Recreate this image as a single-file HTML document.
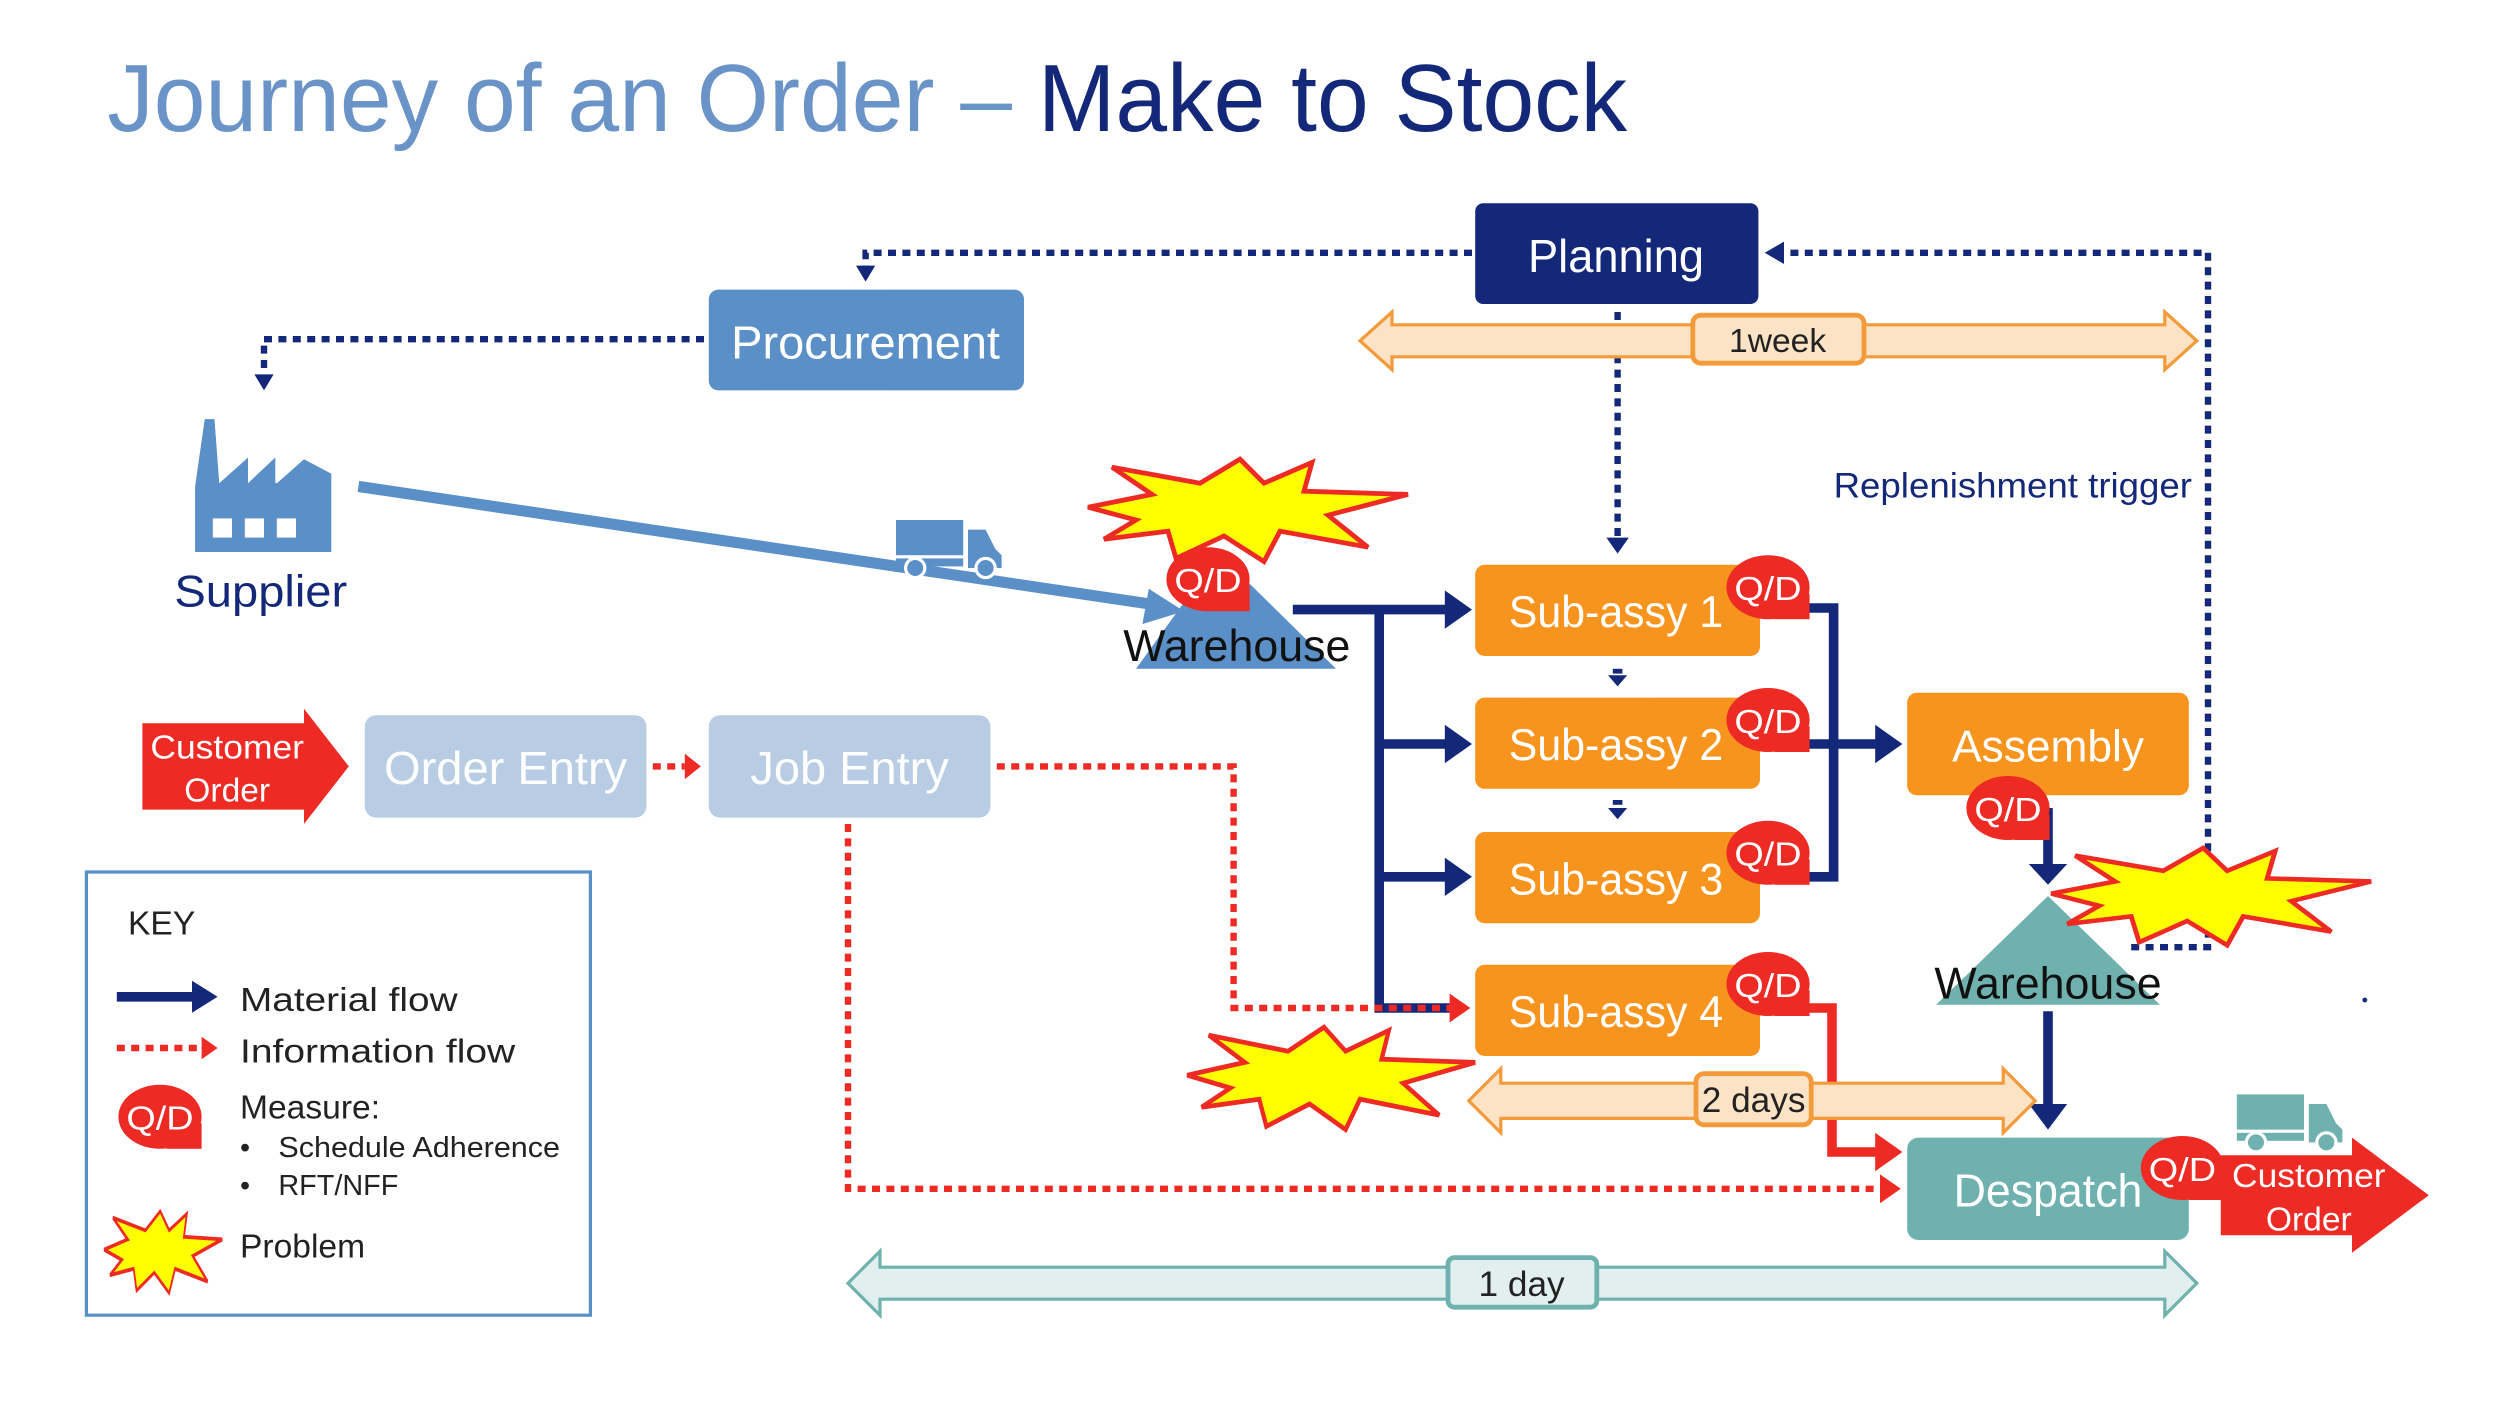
<!DOCTYPE html>
<html><head><meta charset="utf-8"><style>
html,body{margin:0;padding:0;background:#fff;}
svg{display:block;}
text{font-family:"Liberation Sans",sans-serif;}
</style></head><body>
<svg width="2500" height="1406" viewBox="0 0 1562.5 878.75" xmlns="http://www.w3.org/2000/svg">
<defs>
<polygon id="star" points="0,30 40,22 15,5 70,15 95,0 110,15 140,2 135,20 200,22 150,35 175,55 120,45 110,64 85,48 55,62 50,45 10,50 30,38" fill="#ffff00" stroke="#ee2a24" stroke-width="3" stroke-linejoin="miter"/>
<g id="qd"><rect x="4" y="4" width="22" height="16" fill="#ee2a24"/><ellipse cx="0" cy="0" rx="26" ry="20" fill="#ee2a24"/><text x="0" y="8" font-size="21" fill="#fff" text-anchor="middle" textLength="42" lengthAdjust="spacingAndGlyphs">Q/D</text></g>
<g id="truck"><rect x="0" y="0" width="42" height="22" /><rect x="0" y="24" width="42" height="5"/><path d="M45,6 H56 L62,18 L66,22 V30 H45 Z"/><circle cx="12" cy="30" r="6" stroke="#fff" stroke-width="2"/><circle cx="56" cy="30" r="6" stroke="#fff" stroke-width="2"/></g>
</defs>

<!-- Title -->
<text x="67" y="82" font-size="60" textLength="950" lengthAdjust="spacingAndGlyphs"><tspan fill="#6a93c8">Journey of an Order – </tspan><tspan fill="#14287a">Make to Stock</tspan></text>

<!-- dotted navy info lines -->
<g fill="none" stroke="#14287a" stroke-width="4" stroke-dasharray="5,4">
<path d="M920,158 H541 V168"/>
<path d="M440,212 H165 V234"/>
<path d="M1110,158 H1380 V592 H1330"/>
<path d="M1011,195 V336"/>
</g>
<g fill="#14287a">
<polygon points="535,166 547,166 541,176"/>
<polygon points="159,234 171,234 165,244"/>
<polygon points="1103,158 1115,151 1115,165"/>
<polygon points="1004,336 1018,336 1011,346"/>
<polygon points="1005,422 1017,422 1011,429"/><rect x="1008" y="418" width="6" height="3"/>
<polygon points="1005,505 1017,505 1011,512"/><rect x="1008" y="500" width="6" height="3"/>
</g>

<!-- 1week arrow -->
<polygon points="850,213 870,195 870,203 1353,203 1353,195 1373,213 1353,231 1353,223 870,223 870,231" fill="#fde3c5" stroke="#f39a3b" stroke-width="2"/>
<rect x="1058" y="197" width="107" height="30" rx="5" fill="#fde3c5" stroke="#f39a3b" stroke-width="3"/>
<text x="1111" y="220" font-size="21" text-anchor="middle" fill="#222">1week</text>

<!-- Planning / Procurement -->
<rect x="922" y="127" width="177" height="63" rx="5" fill="#14287a"/>
<text x="1010" y="170" font-size="29" fill="#fff" text-anchor="middle" textLength="110" lengthAdjust="spacingAndGlyphs">Planning</text>
<rect x="443" y="181" width="197" height="63" rx="6" fill="#5b8fc7"/>
<text x="541" y="224" font-size="29" fill="#fff" text-anchor="middle" textLength="168" lengthAdjust="spacingAndGlyphs">Procurement</text>

<text x="1146" y="311" font-size="22" fill="#14287a" textLength="224" lengthAdjust="spacingAndGlyphs">Replenishment trigger</text>

<!-- Supplier -->
<path d="M128,262 H134 L137,302 L155,286 V302 L172,286 V302 L207,296 V345 H122 V304 Z" fill="#5b8fc7"/>
<path d="M122,304 L128,262 H134 L137,303 L155,286 V303 L172,286 V303 L190,287 L207,296 V345 H122 Z" fill="#5b8fc7"/>
<g fill="#fff"><rect x="133" y="324" width="12" height="12"/><rect x="153" y="324" width="12" height="12"/><rect x="173" y="324" width="12" height="12"/></g>
<text x="163" y="379" font-size="28" fill="#14287a" text-anchor="middle" textLength="108" lengthAdjust="spacingAndGlyphs">Supplier</text>
<line x1="224" y1="304" x2="722" y2="378" stroke="#5b8fc7" stroke-width="7"/>
<polygon points="718,368 740,382 714,390" fill="#5b8fc7"/>
<g fill="#5b8fc7" transform="translate(560,325)"><use href="#truck"/></g>

<!-- Warehouse 1 -->
<polygon points="762,346 835,418 710,418" fill="#5b8fc7"/>
<use href="#star" transform="translate(680,287)"/>
<use href="#qd" transform="translate(755,362)"/>
<text x="773" y="413" font-size="28" fill="#111" text-anchor="middle" textLength="142" lengthAdjust="spacingAndGlyphs">Warehouse</text>

<!-- material flow -->
<g fill="none" stroke="#14287a" stroke-width="6">
<path d="M808,381 H906"/>
<path d="M862,381 V630 H906"/>
<path d="M862,465 H906"/><path d="M862,548 H906"/>
<path d="M1100,380 H1146 V548 H1100"/>
<path d="M1100,465 H1175"/>
<path d="M1280,505 V542"/>
<path d="M1280,632 V692"/>
</g>
<g fill="#14287a">
<polygon points="903,369 920,381 903,393"/>
<polygon points="903,453 920,465 903,477"/>
<polygon points="903,536 920,548 903,560"/>
<polygon points="1172,453 1189,465 1172,477"/>
<polygon points="1268,540 1292,540 1280,553"/>
<polygon points="1268,690 1292,690 1280,706"/>
</g>

<!-- red info dotted -->
<g fill="none" stroke="#ee2a24" stroke-width="4" stroke-dasharray="5,4">
<path d="M408,479 H428"/>
<path d="M623,479 H771 V630 H906"/>
<path d="M530,515 V743 H1175"/>
</g>
<g fill="#ee2a24">
<polygon points="428,471 438,479 428,487"/>
<polygon points="906,621 919,630 906,639"/>
<polygon points="1175,734 1188,743 1175,752"/>
</g>
<path d="M1100,630 H1145 V720 H1175" fill="none" stroke="#ee2a24" stroke-width="6"/>
<polygon points="1172,708 1189,720 1172,732" fill="#ee2a24"/>

<!-- Sub-assy boxes -->
<g fill="#f7941d">
<rect x="922" y="353" width="178" height="57" rx="6"/>
<rect x="922" y="436" width="178" height="57" rx="6"/>
<rect x="922" y="520" width="178" height="57" rx="6"/>
<rect x="922" y="603" width="178" height="57" rx="6"/>
<rect x="1192" y="433" width="176" height="64" rx="6"/>
</g>
<g font-size="28" fill="#fff" text-anchor="middle">
<text x="1010" y="392" textLength="134" lengthAdjust="spacingAndGlyphs">Sub-assy 1</text>
<text x="1010" y="475" textLength="134" lengthAdjust="spacingAndGlyphs">Sub-assy 2</text>
<text x="1010" y="559" textLength="134" lengthAdjust="spacingAndGlyphs">Sub-assy 3</text>
<text x="1010" y="642" textLength="134" lengthAdjust="spacingAndGlyphs">Sub-assy 4</text>
<text x="1280" y="476" textLength="120" lengthAdjust="spacingAndGlyphs">Assembly</text>
</g>
<use href="#qd" transform="translate(1105,367)"/>
<use href="#qd" transform="translate(1105,450)"/>
<use href="#qd" transform="translate(1105,533)"/>
<use href="#qd" transform="translate(1105,615)"/>
<use href="#qd" transform="translate(1255,505)"/>

<!-- Warehouse 2 -->
<polygon points="1280,560 1350,628 1210,628" fill="#6fb1ae"/>
<use href="#star" transform="translate(1282,530) scale(1,0.95)"/>
<text x="1280" y="624" font-size="28" fill="#111" text-anchor="middle" textLength="142" lengthAdjust="spacingAndGlyphs">Warehouse</text>
<circle cx="1478" cy="625" r="1.5" fill="#14287a"/>

<!-- 2 days -->
<polygon points="918,688 938,668 938,677 1252,677 1252,668 1272,688 1252,708 1252,699 938,699 938,708" fill="#fde3c5" stroke="#f39a3b" stroke-width="2"/>
<rect x="1060" y="671" width="72" height="32" rx="5" fill="#fde3c5" stroke="#f39a3b" stroke-width="3"/>
<text x="1096" y="695" font-size="22" text-anchor="middle" fill="#222">2 days</text>
<use href="#star" transform="translate(742,642) scale(0.9,1)"/>

<!-- Despatch -->
<rect x="1192" y="711" width="176" height="64" rx="7" fill="#6fb1ae"/>
<text x="1280" y="754" font-size="29" fill="#fff" text-anchor="middle" textLength="118" lengthAdjust="spacingAndGlyphs">Despatch</text>
<polygon points="1388,722 1470,722 1470,711 1518,747 1470,783 1470,772 1388,772" fill="#ee2a24"/>
<use href="#qd" transform="translate(1364,730)"/>
<text x="1443" y="742" font-size="21" fill="#fff" text-anchor="middle" textLength="96" lengthAdjust="spacingAndGlyphs">Customer</text>
<text x="1443" y="769" font-size="21" fill="#fff" text-anchor="middle">Order</text>
<g fill="#6fb1ae" transform="translate(1398,684)"><use href="#truck"/></g>

<!-- 1 day -->
<polygon points="530,802 550,782 550,792 1353,792 1353,782 1373,802 1353,822 1353,812 550,812 550,822" fill="#e1f0ef" stroke="#6fb1ae" stroke-width="2"/>
<rect x="905" y="786" width="93" height="31" rx="4" fill="#e1f0ef" stroke="#6fb1ae" stroke-width="3"/>
<text x="951" y="810" font-size="22" text-anchor="middle" fill="#222">1 day</text>

<!-- left: customer order, order entry, job entry -->
<polygon points="89,452 190,452 190,443 218,479 190,515 190,506 89,506" fill="#ee2a24"/>
<text x="142" y="474" font-size="21" fill="#fff" text-anchor="middle" textLength="96" lengthAdjust="spacingAndGlyphs">Customer</text>
<text x="142" y="501" font-size="21" fill="#fff" text-anchor="middle">Order</text>
<rect x="228" y="447" width="176" height="64" rx="7" fill="#b8cce4"/>
<text x="316" y="490" font-size="29" fill="#fff" text-anchor="middle" textLength="152" lengthAdjust="spacingAndGlyphs">Order Entry</text>
<rect x="443" y="447" width="176" height="64" rx="7" fill="#b8cce4"/>
<text x="531" y="490" font-size="29" fill="#fff" text-anchor="middle" textLength="124" lengthAdjust="spacingAndGlyphs">Job Entry</text>

<!-- KEY -->
<rect x="54" y="545" width="315" height="277" fill="#fff" stroke="#5b8fc7" stroke-width="2"/>
<text x="80" y="584" font-size="21" fill="#222">KEY</text>
<line x1="73" y1="623" x2="122" y2="623" stroke="#14287a" stroke-width="6"/>
<polygon points="120,613 136,623 120,633" fill="#14287a"/>
<text x="150" y="632" font-size="21" fill="#222" textLength="136" lengthAdjust="spacingAndGlyphs">Material flow</text>
<line x1="73" y1="655" x2="125" y2="655" stroke="#ee2a24" stroke-width="4" stroke-dasharray="5,4"/>
<polygon points="126,648 136,655 126,662" fill="#ee2a24"/>
<text x="150" y="664" font-size="21" fill="#222" textLength="172" lengthAdjust="spacingAndGlyphs">Information flow</text>
<use href="#qd" transform="translate(100,698)"/>
<text x="150" y="699" font-size="21" fill="#222">Measure:</text>
<text x="150" y="723" font-size="18" fill="#222">•</text>
<text x="174" y="723" font-size="18" fill="#222" textLength="176" lengthAdjust="spacingAndGlyphs">Schedule Adherence</text>
<text x="150" y="747" font-size="18" fill="#222">•</text>
<text x="174" y="747" font-size="18" fill="#222">RFT/NFF</text>
<use href="#star" transform="translate(65,757) scale(0.37,0.8)"/>
<text x="150" y="786" font-size="21" fill="#222">Problem</text>
</svg>
</body></html>
